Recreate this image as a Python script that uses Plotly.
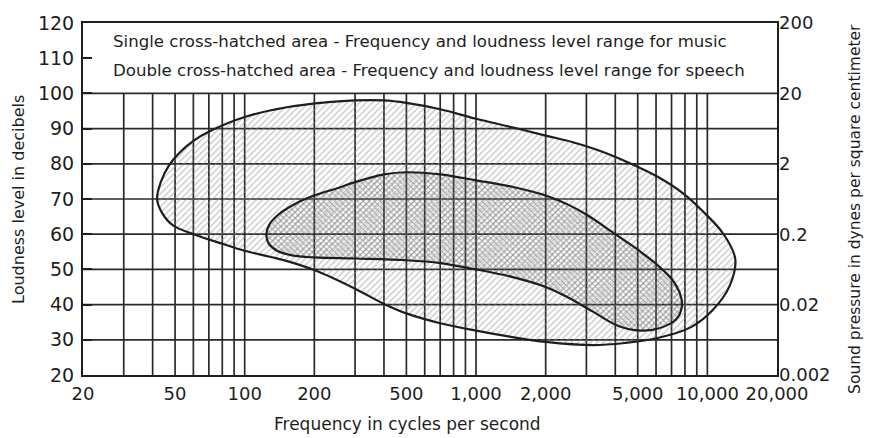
import math
import plotly.graph_objects as go

# ---------------- data ----------------
# Music range (single cross-hatched) boundary: frequency (Hz), loudness (dB)
music_freq = [400, 500, 700, 1000, 1450, 2000, 2600, 3400, 4400, 6100, 8000, 9600,
              11700, 13200, 12500, 10500, 8500, 6100, 4400, 3200, 2000, 1400, 1000, 700,
              500, 400, 300, 200, 150, 100, 80, 60, 49, 44, 41.8, 43.5, 47, 52, 60, 72,
              100, 150, 230, 300, 400]
music_db = [98, 97.3, 95.5, 92.8, 90.3, 88, 86.2, 83.8, 80.8, 76.3, 71.2, 66.4,
            60.2, 53, 45.4, 38.3, 33.6, 30.5, 29.1, 28.5, 29.4, 30.9, 32.6, 34.7,
            37.5, 40.2, 44.5, 49.8, 52.5, 55.3, 57.3, 60, 62.5, 66, 70, 75, 79.5, 83,
            86.5, 89.5, 93.3, 96, 97.5, 98, 98]

# Speech range (double cross-hatched) boundary
speech_freq = [500, 700, 1000, 1445, 2000, 2500, 3000, 4000, 5150, 6140, 7070, 7590, 7770,
               7330, 6140, 5150, 4100, 3200, 2500, 2000, 1400, 1000, 700, 500, 300, 200,
               160, 138, 127, 124, 128, 140, 172, 204, 255, 300, 400, 500]
speech_db = [77.6, 77, 75.3, 73.4, 71, 68.4, 65.6, 60, 55, 51, 47, 43.4, 39.8,
             35.8, 33.2, 32.6, 34, 38, 42, 45, 48, 50, 51.8, 52.6, 53.1, 53.4,
             54, 55.3, 57.3, 60, 62.8, 65.6, 69.2, 71.2, 73.2, 74.8, 77, 77.6]

# grid
grid_freqs = [30, 40, 50, 60, 70, 80, 90, 100, 200, 300, 400, 500, 600, 700, 800, 900,
              1000, 2000, 3000, 4000, 5000, 6000, 7000, 8000, 9000, 10000]
grid_db = [30, 40, 50, 60, 70, 80, 90, 100]

x_tickvals = [20, 50, 100, 200, 500, 1000, 2000, 5000, 10000, 20000]
x_ticktext = ["20", "50", "100", "200", "500", "1,000", "2,000", "5,000", "10,000", "20,000"]
y_tickvals = [20, 30, 40, 50, 60, 70, 80, 90, 100, 110, 120]
y2_tickvals = [20, 40, 60, 80, 100, 120]
y2_ticktext = ["0.002", "0.02", "0.2", "2", "20", "200"]

legend_lines = [
    "Single cross-hatched area - Frequency and loudness level range for music",
    "Double cross-hatched area - Frequency and loudness level range for speech",
]
legend_db = [114.7, 106.4]

FONT = "DejaVu Sans"
INK = "#1e1e1e"

fig = go.Figure()

# grid lines (vertical ones only up to 100 dB)
gx, gy = [], []
for f in grid_freqs:
    gx += [f, f, None]
    gy += [20, 100, None]
for d in grid_db:
    gx += [20, 20000, None]
    gy += [d, d, None]
fig.add_trace(go.Scatter(x=gx, y=gy, mode="lines", line=dict(color="#2a2a2a", width=1.7),
                         hoverinfo="skip", showlegend=False))

fig.add_trace(go.Scatter(
    x=music_freq, y=music_db, mode="lines", fill="toself",
    fillcolor="rgba(0,0,0,0)",
    fillpattern=dict(shape="/", fgcolor="#8f8f8f", bgcolor="rgba(255,255,255,0)",
                     size=4.5, solidity=0.3),
    line=dict(color=INK, width=2.2, shape="spline", smoothing=1),
    hoverinfo="skip", showlegend=False))

fig.add_trace(go.Scatter(
    x=speech_freq, y=speech_db, mode="lines", fill="toself",
    fillcolor="rgba(0,0,0,0)",
    fillpattern=dict(shape="x", fgcolor="#555555", bgcolor="rgba(255,255,255,0)",
                     size=4, solidity=0.42),
    line=dict(color=INK, width=2.2, shape="spline", smoothing=1),
    hoverinfo="skip", showlegend=False))

# invisible trace on y2 to activate right axis
fig.add_trace(go.Scatter(x=[20], y=[20], yaxis="y2", mode="markers",
                         marker=dict(opacity=0), hoverinfo="skip", showlegend=False))

fig.update_layout(
    width=875, height=438,
    margin=dict(l=83, r=98, t=14, b=63),
    paper_bgcolor="white", plot_bgcolor="white",
    font=dict(family=FONT, color=INK, size=17),
    xaxis=dict(type="log", range=[math.log10(20), math.log10(20000)],
               tickvals=x_tickvals, ticktext=x_ticktext, showgrid=False, zeroline=False,
               showline=True, linecolor=INK, linewidth=2, mirror=True, ticks="",
               tickfont=dict(size=18), ticklabelstandoff=1),
    yaxis=dict(range=[20, 120], tickvals=y_tickvals, showgrid=False, zeroline=False,
               showline=True, linecolor=INK, linewidth=2, mirror=True,
               ticks="inside", ticklen=9, tickwidth=1.6, tickcolor=INK,
               tickfont=dict(size=19), ticklabelstandoff=3),
    yaxis2=dict(range=[20, 120], overlaying="y", side="right", tickvals=y2_tickvals,
                ticktext=y2_ticktext, showgrid=False, zeroline=False, showline=False,
                ticks="", tickfont=dict(size=18), ticklabelstandoff=1),
)

for txt, d in zip(legend_lines, legend_db):
    fig.add_annotation(text=txt, xref="paper", x=0.04, xanchor="left",
                       yref="y", y=d, yanchor="middle", showarrow=False,
                       font=dict(size=16.6, family=FONT, color=INK))

fig.add_annotation(text="Frequency in cycles per second", xref="paper", x=0.468,
                   xanchor="center", yref="paper", y=-0.138, yanchor="middle",
                   showarrow=False, font=dict(size=17))
fig.add_annotation(text="Loudness level in decibels", xref="paper", x=-0.0937,
                   xanchor="center", yref="paper", y=0.5, yanchor="middle",
                   textangle=-90, showarrow=False, font=dict(size=16))
fig.add_annotation(text="Sound pressure in dynes per square centimeter", xref="paper",
                   x=1.112, xanchor="center", yref="paper", y=0.471, yanchor="middle",
                   textangle=-90, showarrow=False, font=dict(size=15.5))

fig.write_html("out.html")
